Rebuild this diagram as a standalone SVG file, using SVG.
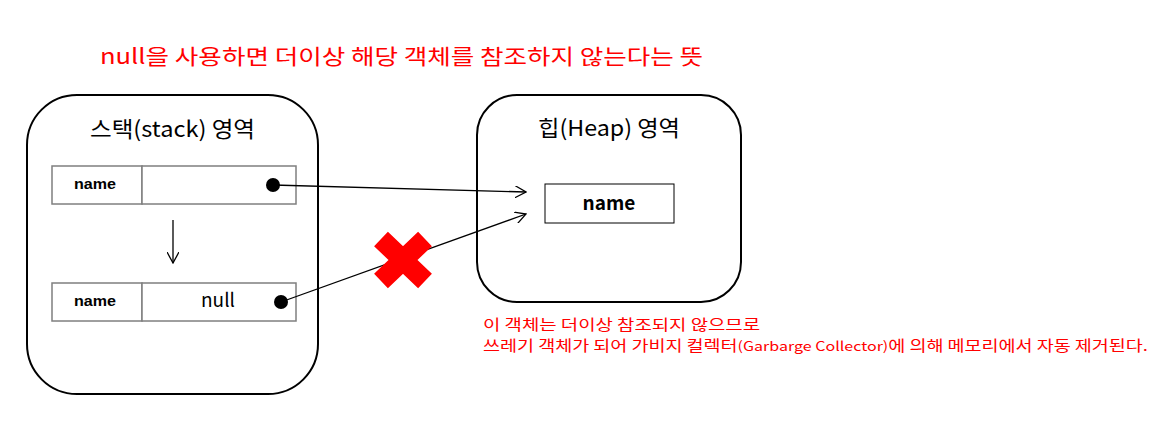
<svg xmlns="http://www.w3.org/2000/svg" width="1167" height="424" viewBox="0 0 1167 424">
<style>
.t{font-family:"Noto Sans CJK KR","Liberation Sans",sans-serif;}
.red{fill:#ff0000;}
.box{fill:#fff;stroke:#000;stroke-width:2;}
.cell{fill:#fff;stroke:#7f7f7f;stroke-width:1.5;}
.conn{fill:none;stroke:#000;stroke-width:1.3;}
.nm{font-family:"Liberation Sans",sans-serif;font-weight:bold;font-size:14px;}
</style>
<defs>
<marker id="open" viewBox="0 0 12 12" refX="11" refY="6" markerWidth="12" markerHeight="12" markerUnits="userSpaceOnUse" orient="auto">
<path d="M0,0 L11,6 L0,12" fill="none" stroke="#000" stroke-width="1.3"/>
</marker>
</defs>
<rect width="1167" height="424" fill="#fff"/>
<text class="t red" x="100" y="64" font-size="21" textLength="603" lengthAdjust="spacingAndGlyphs">null을 사용하면 더이상 해당 객체를 참조하지 않는다는 뜻</text>
<g id="stack">
<rect class="box" x="27" y="95" width="291" height="299" rx="50" ry="50"/>
<text class="t" x="90" y="137" font-size="22" textLength="165" lengthAdjust="spacingAndGlyphs">스택(stack) 영역</text>
</g>
<g id="row1">
<rect class="cell" x="52" y="166" width="90" height="38"/>
<rect class="cell" x="142" y="166" width="154" height="38"/>
<text class="nm" x="74" y="189" textLength="42" lengthAdjust="spacingAndGlyphs">name</text>
<circle cx="273" cy="185" r="7" fill="#000"/>
</g>
<g id="row2">
<rect class="cell" x="52" y="283" width="90" height="38"/>
<rect class="cell" x="142" y="283" width="154" height="38"/>
<text class="nm" x="74" y="306" textLength="42" lengthAdjust="spacingAndGlyphs">name</text>
<text class="t" x="218" y="307" font-size="19" text-anchor="middle">null</text>
<circle cx="281" cy="302" r="7" fill="#000"/>
</g>
<g id="heap">
<rect class="box" x="477" y="95" width="264" height="207" rx="40" ry="40"/>
<text class="t" x="538" y="136" font-size="22" textLength="142" lengthAdjust="spacingAndGlyphs">힙(Heap) 영역</text>
</g>
<g id="heapname">
<rect fill="#fff" stroke="#000" stroke-width="1" x="545" y="184" width="129" height="39"/>
<text class="t" x="609" y="210" font-size="19" font-weight="bold" text-anchor="middle">name</text>
</g>
<g id="connectors">
<line class="conn" x1="173" y1="220" x2="173" y2="263" marker-end="url(#open)"/>
<line class="conn" x1="273" y1="185" x2="526" y2="192" marker-end="url(#open)"/>
<line class="conn" x1="281" y1="302" x2="526" y2="214" marker-end="url(#open)"/>
</g>
<g id="cross">
<path d="M381,239 L425,281 M425,239 L381,281" stroke="#ff0000" stroke-width="20" fill="none"/>
</g>
<g id="note">
<text class="t red" x="483" y="330" font-size="15" textLength="277" lengthAdjust="spacingAndGlyphs">이 객체는 더이상 참조되지 않으므로</text>
<text class="t red" x="483" y="351" font-size="15" textLength="665" lengthAdjust="spacingAndGlyphs">쓰레기 객체가 되어 가비지 컬렉터<tspan font-size="13">(Garbarge Collector)</tspan>에 의해 메모리에서 자동 제거된다.</text>
</g>
</svg>
